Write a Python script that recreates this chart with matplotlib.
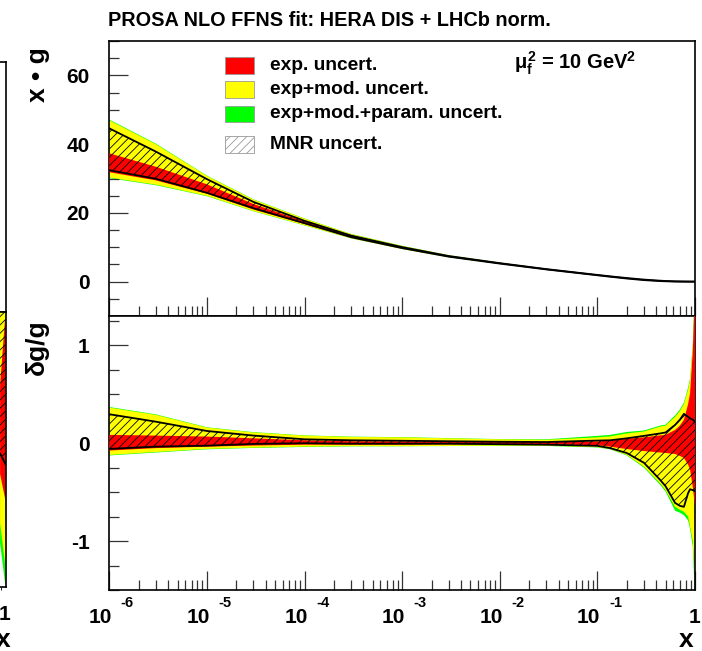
import numpy as np
import matplotlib
matplotlib.use("Agg")
import matplotlib.pyplot as plt
from matplotlib.patches import Rectangle
from matplotlib.ticker import MultipleLocator, LogLocator, NullFormatter, FixedLocator

# ---------------- data ----------------
x_grid = [1e-6, 3e-6, 1e-5, 3e-5, 1e-4, 3e-4, 1e-3, 3e-3, 1e-2, 3e-2, 0.1, 0.135,
          0.2, 0.3, 0.44, 0.5, 0.625, 0.7, 0.77, 0.85, 0.89, 0.95, 1.0]
xg_central = [34.4, 31.0, 26.5, 21.5, 17.0, 13.0, 9.8, 7.3, 5.3, 3.6, 1.9, 1.5,
              1.0, 0.55, 0.25, 0.17, 0.07, 0.04, 0.02, 0.006, 0.003, 0.001, 0.0]
# relative uncertainties dg/g
exp_up = [0.085, 0.078, 0.068, 0.05, 0.03, 0.02, 0.018, 0.015, 0.012, 0.012, 0.018, 0.027,
          0.045, 0.06, 0.08, 0.085, 0.136, 0.18, 0.24, 0.40, 0.51, 0.95, 1.6]
exp_dn = [-0.075, -0.05, -0.035, -0.024, -0.015, -0.015, -0.015, -0.012, -0.012, -0.012, -0.02, -0.035,
          -0.06, -0.08, -0.095, -0.10, -0.11, -0.13, -0.15, -0.22, -0.27, -0.45, -0.65]
mod_up = [0.364, 0.29, 0.16, 0.11, 0.078, 0.065, 0.06, 0.05, 0.04, 0.035, 0.06, 0.07,
          0.10, 0.12, 0.17, 0.18, 0.27, 0.33, 0.40, 0.55, 0.64, 1.0, 1.6]
mod_dn = [-0.12, -0.09, -0.058, -0.045, -0.035, -0.03, -0.03, -0.028, -0.025, -0.025, -0.04, -0.058,
          -0.12, -0.24, -0.41, -0.48, -0.65, -0.68, -0.70, -0.75, -0.85, -1.0, -1.46]
par_up = [0.37, 0.295, 0.163, 0.113, 0.08, 0.067, 0.062, 0.052, 0.042, 0.04, 0.075, 0.085,
          0.115, 0.13, 0.18, 0.19, 0.285, 0.345, 0.415, 0.57, 0.66, 1.02, 1.62]
par_dn = [-0.125, -0.095, -0.062, -0.048, -0.038, -0.032, -0.031, -0.029, -0.027, -0.028, -0.043, -0.062,
          -0.125, -0.25, -0.425, -0.495, -0.69, -0.71, -0.735, -0.79, -0.875, -1.06, -1.6]
mnr_up = [0.296, 0.22, 0.125, 0.078, 0.04, 0.03, 0.025, 0.02, 0.015, 0.012, 0.027, 0.03,
          0.05, 0.075, 0.10, 0.11, 0.187, 0.24, 0.30, 0.27, 0.255, 0.24, 0.22]
mnr_dn = [-0.058, -0.035, -0.025, -0.007, 0.0, -0.005, -0.005, -0.005, -0.01, -0.015, -0.027, -0.05,
          -0.10, -0.20, -0.375, -0.44, -0.61, -0.64, -0.65, -0.51, -0.47, -0.48, -0.49]

# neighbouring (cut-off) panel on the left edge
nb_x = [0.88, 1.0]
nb_exp_up = [0.55, 1.3]
nb_exp_dn = [-0.35, -0.62]
nb_mod_dn = [-0.85, -1.3]
nb_par_dn = [-1.05, -1.5]
nb_mnr_dn = [-0.14, -0.25]

xtick_exps = ["-6", "-5", "-4", "-3", "-2", "-1"]
xtick_pos = [1e-6, 1e-5, 1e-4, 1e-3, 1e-2, 1e-1]
ytop_ticks = [0, 20, 40, 60]
ybot_ticks = [-1, 0, 1]
legend_labels = ["exp. uncert.", "exp+mod. uncert.", "exp+mod.+param. uncert.", "MNR uncert."]

# ---------------- style ----------------
plt.rcParams['font.family'] = ['Liberation Sans', 'DejaVu Sans']
plt.rcParams['font.weight'] = 'bold'
plt.rcParams['hatch.linewidth'] = 0.6
plt.rcParams['mathtext.fontset'] = 'custom'
plt.rcParams['mathtext.rm'] = 'Liberation Sans:bold'
plt.rcParams['mathtext.it'] = 'Liberation Sans:bold'
plt.rcParams['mathtext.bf'] = 'Liberation Sans:bold'

RED, YEL, GRN = '#ff0000', '#ffff00', '#00ff00'

W, H = 702.0, 651.0
fig = plt.figure(figsize=(7.02, 6.51), dpi=100)


def fx(px):
    return px / W


def fy(py):
    return 1 - py / H


L, R = 109.3, 695.0
T1, M, B = 41.0, 316.0, 590.0
ax1 = fig.add_axes([fx(L), fy(M), (R - L) / W, (M - T1) / H])
ax2 = fig.add_axes([fx(L), fy(B), (R - L) / W, (B - M) / H])

x = np.array(x_grid)
c = np.array(xg_central)


def draw(ax, base, rel_scale):
    def v(r):
        r = np.array(r)
        return base * (1 + r) if rel_scale else r
    ax.fill_between(x, v(par_dn), v(par_up), facecolor=GRN, edgecolor='none', lw=0, zorder=1)
    ax.fill_between(x, v(mod_dn), v(mod_up), facecolor=YEL, edgecolor='none', lw=0, zorder=2)
    ax.fill_between(x, v(exp_dn), v(exp_up), facecolor=RED, edgecolor='none', lw=0, zorder=3)
    ax.fill_between(x, v(mnr_dn), v(mnr_up), facecolor='none', edgecolor='black',
                    hatch='////', lw=0, zorder=4)
    ax.plot(x, v(mnr_up), color='black', lw=1.3, zorder=5)
    ax.plot(x, v(mnr_dn), color='black', lw=1.3, zorder=5)


draw(ax1, c, True)
draw(ax2, None, False)

for ax in (ax1, ax2):
    ax.set_xscale('log')
    ax.set_xlim(1e-6, 1)
    ax.xaxis.set_major_locator(FixedLocator(xtick_pos + [1.0]))
    ax.xaxis.set_minor_locator(LogLocator(base=10, subs=np.arange(2, 10), numticks=20))
    ax.xaxis.set_major_formatter(NullFormatter())
    ax.xaxis.set_minor_formatter(NullFormatter())
    ax.tick_params(which='both', direction='in', top=False, right=False, width=0.9, color='#333333')
    ax.tick_params(which='major', length=14)
    ax.tick_params(which='minor', length=7)
    for s in ax.spines.values():
        s.set_linewidth(1.2)

ax1.set_ylim(-10, 70)
ax1.yaxis.set_major_locator(FixedLocator(ytop_ticks))
ax1.yaxis.set_minor_locator(MultipleLocator(5))
ax1.set_yticklabels([str(t) for t in ytop_ticks], fontsize=15, fontweight='bold')
ax2.set_ylim(-1.5, 1.3)
ax2.yaxis.set_major_locator(FixedLocator(ybot_ticks))
ax2.yaxis.set_minor_locator(MultipleLocator(0.25))
ax2.set_yticklabels([str(t) for t in ybot_ticks], fontsize=15, fontweight='bold')
for ax in (ax1, ax2):
    ax.tick_params(axis='y', which='major', pad=14)

# x tick labels ROOT style "10" + raised exponent
for pos, e in zip(xtick_pos, xtick_exps):
    xp = L + (np.log10(pos) + 6) / 6 * (R - L)
    fig.text(fx(xp + 3), fy(623), "10", ha='right', va='baseline', fontsize=15, fontweight='bold')
    fig.text(fx(xp + 11.5), fy(607), e, ha='left', va='baseline', fontsize=10.5, fontweight='bold')
fig.text(fx(R), fy(623), "1", ha='center', va='baseline', fontsize=15, fontweight='bold')

# axis titles
fig.text(fx(686), fy(640), "x", ha='center', va='center', fontsize=19, fontweight='bold')
fig.text(fx(38), fy(75), "x • g", ha='center', va='center', rotation=90, fontsize=19, fontweight='bold')
fig.text(fx(37), fy(347), "δg/g", ha='center', va='center', rotation=90, fontsize=19, fontweight='bold')

# title
fig.text(fx(108), fy(20), "PROSA NLO FFNS fit: HERA DIS + LHCb norm.", ha='left', va='center',
         fontsize=14.3, fontweight='bold')

# scale annotation
fig.text(fx(636), fy(69), r"$\mu_{f}^{2}$" + " = 10 GeV" + r"$^{2}$", ha='right', va='baseline',
         fontsize=14.5, fontweight='bold')

# legend
leg_y = [(56.7, 74.3), (81.0, 97.7), (105.7, 122.3), (136.0, 153.3)]
leg_fc = [RED, YEL, GRN, 'none']
for (y0, y1), fc, lab in zip(leg_y, leg_fc, legend_labels):
    rect = Rectangle((fx(225), fy(y1)), (254 - 225) / W, (y1 - y0) / H, transform=fig.transFigure,
                     facecolor=fc, edgecolor='#999999', lw=0.6, hatch='////' if fc == 'none' else None)
    fig.add_artist(rect)
    fig.text(fx(270), fy((y0 + y1) / 2), lab, ha='left', va='center', fontsize=13.8, fontweight='bold')

# neighbouring panel (cut off at the left edge)
NR = 5.5
axn1 = fig.add_axes([fx(NR - (R - L)), fy(312), (R - L) / W, (312 - 62) / H])
axn2 = fig.add_axes([fx(NR - (R - L)), fy(587), (R - L) / W, (587 - 312) / H])
nx = np.array(nb_x)
axn2.fill_between(nx, nb_par_dn, [2, 2], facecolor=GRN, lw=0)
axn2.fill_between(nx, nb_mod_dn, [2, 2], facecolor=YEL, lw=0)
axn2.fill_between(nx, nb_exp_dn, nb_exp_up, facecolor=RED, lw=0)
axn2.fill_between(nx, nb_mnr_dn, [2, 2], facecolor='none', edgecolor='black', hatch='////', lw=0)
axn2.plot(nx, nb_mnr_dn, color='black', lw=1.3)
for ax in (axn1, axn2):
    ax.set_xscale('log')
    ax.set_xlim(1e-6, 1)
    ax.set_xticks([])
    ax.set_yticks([])
    for s in ax.spines.values():
        s.set_linewidth(1.2)
axn2.set_ylim(-1.5, 1.3)
fig.text(fx(5), fy(620), "1", ha='center', va='baseline', fontsize=15, fontweight='bold')
fig.text(fx(3), fy(640), "x", ha='center', va='center', fontsize=19, fontweight='bold')

fig.savefig("out.png", dpi=100)
